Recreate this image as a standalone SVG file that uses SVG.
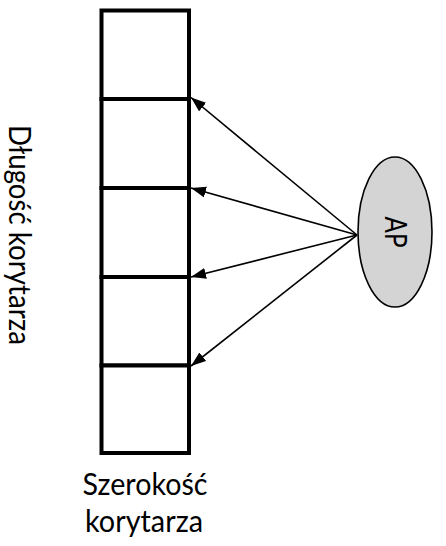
<svg xmlns="http://www.w3.org/2000/svg" width="446" height="546" viewBox="0 0 446 546">
<style>
.cell{fill:#fff;stroke:#000;stroke-width:4}
.conn{stroke:#000;stroke-width:1.6;fill:none}
.lbl{font-family:Lato,"Open Sans","Liberation Sans",sans-serif;font-size:31px;fill:#000}
</style>
<defs>
<marker id="ah" markerUnits="userSpaceOnUse" markerWidth="16" markerHeight="12" refX="15" refY="5.5" orient="auto">
<path d="M0,0 L15,5.5 L0,11 Z" fill="#000"/>
</marker>
</defs>
<rect width="446" height="546" fill="#fff"/>
<g id="corridor">
<rect class="cell" x="101.5" y="10.5" width="87.5" height="88.5"/>
<rect class="cell" x="101.5" y="99" width="87.5" height="89"/>
<rect class="cell" x="101.5" y="188" width="87.5" height="89"/>
<rect class="cell" x="101.5" y="277" width="87.5" height="88.5"/>
<rect class="cell" x="101.5" y="365.5" width="87.5" height="87.5"/>
</g>
<g id="ap">
<ellipse cx="395" cy="232" rx="37" ry="75" fill="#d4d4d4" stroke="#000" stroke-width="1.6"/>
<text class="lbl" transform="translate(385,232) rotate(90)" text-anchor="middle" font-size="28" textLength="31" lengthAdjust="spacingAndGlyphs">AP</text>
</g>
<g id="connectors">
<line class="conn" x1="357" y1="235" x2="191" y2="97.5" marker-end="url(#ah)"/>
<line class="conn" x1="357" y1="235" x2="191" y2="188" marker-end="url(#ah)"/>
<line class="conn" x1="357" y1="235" x2="191" y2="277" marker-end="url(#ah)"/>
<line class="conn" x1="357" y1="235" x2="191" y2="366" marker-end="url(#ah)"/>
</g>
<g id="length-label">
<text class="lbl" transform="translate(9,235) rotate(90)" text-anchor="middle" textLength="220" lengthAdjust="spacingAndGlyphs">Długość korytarza</text>
</g>
<g id="width-label">
<text class="lbl" x="145" y="495" text-anchor="middle" textLength="125" lengthAdjust="spacingAndGlyphs">Szerokość</text>
<text class="lbl" x="144" y="532" text-anchor="middle" textLength="118" lengthAdjust="spacingAndGlyphs">korytarza</text>
</g>
</svg>
